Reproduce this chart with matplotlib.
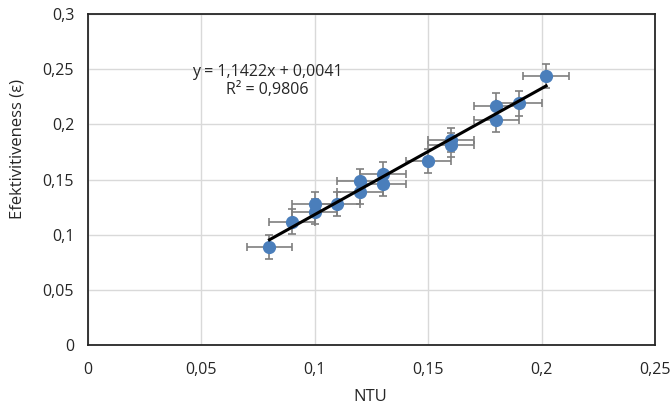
import numpy as np
import matplotlib.pyplot as plt
from matplotlib.ticker import FuncFormatter

# data
ntu = [0.08, 0.09, 0.10, 0.10, 0.11, 0.12, 0.12, 0.13, 0.13,
       0.15, 0.16, 0.16, 0.18, 0.18, 0.19, 0.202]
eff = [0.089, 0.112, 0.128, 0.121, 0.128, 0.149, 0.139, 0.155, 0.146,
       0.167, 0.186, 0.181, 0.217, 0.204, 0.219, 0.244]
x_err = 0.01
y_err = 0.011

slope = 1.1422
intercept = 0.0041
r2 = 0.9806


def comma(v, pos):
    s = f"{v:.2f}".rstrip("0").rstrip(".")
    return s.replace(".", ",")


def main():
    plt.rcParams["font.family"] = ["Open Sans", "DejaVu Sans"]
    fig = plt.figure(figsize=(6.72, 4.09), dpi=100)
    ax = fig.add_axes([0.131, 0.156, 0.8437, 0.81])

    ax.errorbar(ntu, eff, xerr=x_err, yerr=y_err, fmt="o",
                color="#4a7ebb", ecolor="#7f7f7f", elinewidth=1.2,
                capsize=3, capthick=1.2, markersize=8.5, zorder=3)

    xs = np.array([min(ntu), max(ntu)])
    ax.plot(xs, slope * xs + intercept, color="black", linewidth=2.2, zorder=4)

    ax.text(0.079, 0.2475, "y = 1,1422x + 0,0041", fontsize=11.5,
            ha="center", va="center", color="#262626")
    ax.text(0.079, 0.2312, "R² = 0,9806", fontsize=11.5,
            ha="center", va="center", color="#262626")

    ax.set_xlim(0, 0.25)
    ax.set_ylim(0, 0.3)
    ax.set_xticks(np.arange(0, 0.251, 0.05))
    ax.set_yticks(np.arange(0, 0.301, 0.05))
    ax.xaxis.set_major_formatter(FuncFormatter(comma))
    ax.yaxis.set_major_formatter(FuncFormatter(comma))
    ax.tick_params(length=0, labelsize=11.5, colors="#262626")
    ax.tick_params(axis="x", pad=12)
    ax.tick_params(axis="y", pad=10)

    ax.grid(True, color="#d9d9d9", linewidth=1)
    ax.set_axisbelow(True)
    for sp in ax.spines.values():
        sp.set_linewidth(1.3)
        sp.set_color("#262626")

    ax.set_xlabel("NTU", fontsize=12, color="#262626")
    ax.set_ylabel("Efektivitiveness (ε)", fontsize=12, color="#262626")
    ax.xaxis.set_label_coords(0.497, -0.132)
    ax.yaxis.set_label_coords(-0.11, 0.592)

    fig.savefig("out.png", dpi=100)


if __name__ == "__main__":
    main()
